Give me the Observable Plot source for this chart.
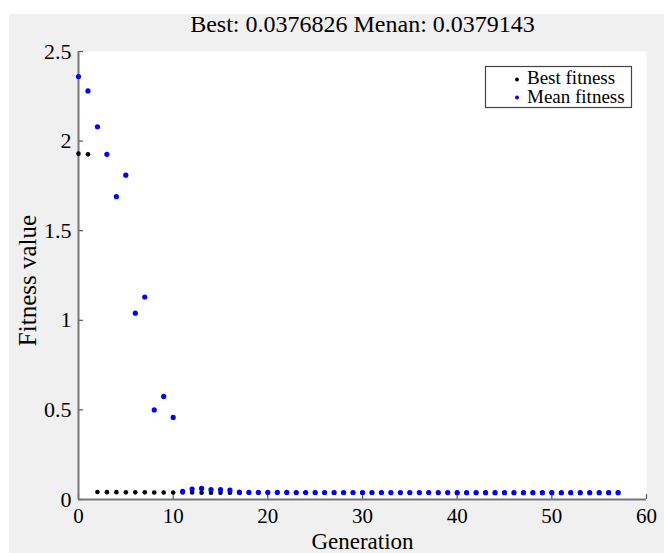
<!DOCTYPE html>
<html>
<head>
<meta charset="utf-8">
<script src="https://cdn.jsdelivr.net/npm/d3@7"></script>
<script src="https://cdn.jsdelivr.net/npm/@observablehq/plot@0.6"></script>
<style>
  body { margin: 0; background: #ffffff; }
  #wrap { position: relative; width: 664px; height: 553px; overflow: hidden; }
  #bg { position: absolute; left: 9px; top: 14px; width: 655px; height: 539px; background: #f0f0f0; }
  #wrap svg { position: absolute; left: 0; top: 0; }
</style>
</head>
<body>
<div id="wrap"><div id="bg"></div></div>
<script>
const generations = d3.range(0, 58);
const bestFitness = [
  1.930, 1.926, 0.042, 0.041, 0.041, 0.040, 0.040, 0.040, 0.039, 0.039,
  0.039, 0.039, 0.039, 0.038, 0.038, 0.038, 0.038, 0.0378, 0.0378, 0.0378,
  0.0378, 0.0378, 0.0378, 0.0378, 0.0378, 0.0378, 0.0378, 0.0377, 0.0377, 0.0377,
  0.0377, 0.0377, 0.0377, 0.0377, 0.0377, 0.0377, 0.0377, 0.0377, 0.0377, 0.0377,
  0.0377, 0.0377, 0.0377, 0.0377, 0.0377, 0.0377, 0.0377, 0.0377, 0.0377, 0.0377,
  0.0377, 0.0377, 0.0377, 0.0377, 0.0377, 0.0377, 0.0377, 0.0376826
];
const meanFitness = [
  2.36, 2.28, 2.08, 1.926, 1.69, 1.81, 1.04, 1.13, 0.50, 0.575,
  0.458, 0.046, 0.058, 0.062, 0.055, 0.055, 0.052, 0.041, 0.040, 0.040,
  0.040, 0.040, 0.040, 0.039, 0.039, 0.039, 0.039, 0.039, 0.039, 0.039,
  0.039, 0.039, 0.039, 0.0385, 0.0385, 0.0385, 0.0385, 0.0385, 0.0385, 0.0385,
  0.0382, 0.0382, 0.0382, 0.0382, 0.0382, 0.0382, 0.0381, 0.0381, 0.0381, 0.0381,
  0.0380, 0.0380, 0.0380, 0.0380, 0.0380, 0.0380, 0.0380, 0.0379143
];
const xTicks = [0, 10, 20, 30, 40, 50, 60];
const yTicks = [0, 0.5, 1, 1.5, 2, 2.5];
const yTickLabels = ["0", "0.5", "1", "1.5", "2", "2.5"];
const titleText = "Best: 0.0376826 Menan: 0.0379143";
const xLabel = "Generation";
const yLabel = "Fitness value";
const legendLabels = ["Best fitness", "Mean fitness"];
const seriesColors = ["#000000", "#0000ff"];

const bestData = generations.map((g, i) => ({g, v: bestFitness[i]}));
const meanData = generations.map((g, i) => ({g, v: meanFitness[i]}));

const W = 664, H = 553, mL = 78, mR = 18, mT = 51, mB = 54;
const plotW = W - mL - mR, plotH = H - mT - mB;
const serif = "'Liberation Serif', 'Times New Roman', serif";

const chart = Plot.plot({
  width: W, height: H,
  marginLeft: mL, marginRight: mR, marginTop: mT, marginBottom: mB,
  style: {background: "transparent", fontFamily: serif, color: "#000", overflow: "visible"},
  x: {domain: [0, 60]},
  y: {domain: [0, 2.5]},
  marks: [
    Plot.frame({fill: "white", stroke: null}),
    Plot.tickX(xTicks, {x: d => d, insetTop: plotH - 5, stroke: "#555", strokeWidth: 1.2}),
    Plot.tickY(yTicks, {y: d => d, insetRight: plotW - 5, stroke: "#555", strokeWidth: 1.2}),
    Plot.axisX({ticks: xTicks, tickSize: 0, tickPadding: 9, fontSize: 21, fontFamily: serif, tickFormat: d => String(d), label: null}),
    Plot.axisY({ticks: yTicks, tickSize: 0, tickPadding: 7, fontSize: 22, fontFamily: serif, tickFormat: (d, i) => yTickLabels[i], label: null}),
    Plot.ruleX([0], {stroke: "#777", strokeWidth: 2}),
    Plot.ruleY([0], {stroke: "#777", strokeWidth: 2}),
    Plot.dot(bestData, {x: "g", y: "v", r: 2.3, fill: seriesColors[0], stroke: null}),
    Plot.dot(meanData, {x: "g", y: "v", r: 2.6, fill: seriesColors[1], stroke: null}),
    Plot.text([titleText], {frameAnchor: "top", dy: -27, fontSize: 24, fontFamily: serif, lineAnchor: "middle", fill: "#000"}),
    Plot.text([xLabel], {frameAnchor: "bottom", dy: 42, fontSize: 23, fontFamily: serif, lineAnchor: "middle", fill: "#000"}),
    Plot.text([yLabel], {frameAnchor: "left", textAnchor: "middle", dx: -51, dy: 5, rotate: -90, fontSize: 25, fontFamily: serif, lineAnchor: "middle", fill: "#000"})
  ]
});
document.getElementById("wrap").appendChild(chart);

// Legend box inside the plot area (top-right)
const leg = d3.select(chart).append("g");
const lx = 485, ly = 66;
leg.append("rect").attr("x", lx + 0.5).attr("y", ly + 0.5).attr("width", 146).attr("height", 41)
  .attr("fill", "white").attr("stroke", "#444").attr("stroke-width", 1.2);
legendLabels.forEach((lab, i) => {
  leg.append("circle").attr("cx", lx + 32).attr("cy", ly + 13.5 + i * 18).attr("r", 2)
    .attr("fill", seriesColors[i]);
  leg.append("text").attr("x", lx + 42).attr("y", ly + 17.5 + i * 19)
    .attr("text-anchor", "start")
    .attr("font-family", serif).attr("font-size", 19).attr("fill", "#000").text(lab);
});
</script>
</body>
</html>
